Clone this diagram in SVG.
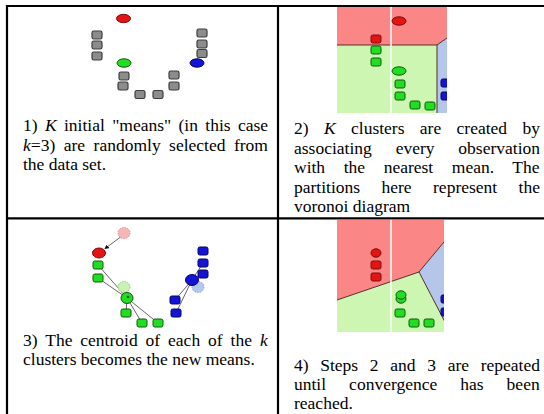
<svg xmlns="http://www.w3.org/2000/svg" width="544" height="414" viewBox="0 0 544 414">
<style>
  .rule{stroke:#000;stroke-width:2.2;fill:none}
  .txt{font-family:"Liberation Serif","Times New Roman",serif;font-size:17.5px;fill:#000}
  .it{font-style:italic}
  .gray{fill:#8c8c8c;stroke:#3c3c3c;stroke-width:1.2}
  .red{fill:#e41414;stroke:#7a0c0c;stroke-width:1}
  .grn{fill:#22dd22;stroke:#0d5a0d;stroke-width:1}
  .blu{fill:#1414d8;stroke:#06065a;stroke-width:1}
  .link{stroke:#555;stroke-width:0.9;fill:none}
  .ghost{stroke-dasharray:1.5 1.2;stroke-width:1}
  .edge{stroke:#5a2a2a;stroke-width:1;fill:none}
  .split{stroke:#fff;stroke-width:1.5}
</style>
<defs>
  <rect id="sq" x="-5" y="-4" width="10" height="8" rx="1.8"/>
  <ellipse id="mean" rx="7" ry="4.2"/>
  <clipPath id="clip2"><rect x="337" y="7" width="110" height="106"/></clipPath>
  <clipPath id="clip4"><rect x="337" y="220" width="107" height="112"/></clipPath>
  <marker id="head" viewBox="0 0 6 6" refX="5" refY="3" markerWidth="5" markerHeight="5" orient="auto">
    <path d="M0,0 L6,3 L0,6 z" fill="#111"/>
  </marker>
</defs>

<!-- table rules -->
<g id="table">
  <line class="rule" x1="6" y1="6" x2="544" y2="6"/>
  <line class="rule" x1="7" y1="5" x2="7" y2="414"/>
  <line class="rule" x1="278" y1="5" x2="278" y2="414"/>
  <line class="rule" x1="6" y1="218.3" x2="544" y2="218.3"/>
</g>

<!-- step 1: initial means among the data points -->
<g id="step1">
  <use href="#mean" class="red" x="123.5" y="18.5"/>
  <use href="#sq" class="gray" x="97" y="35"/>
  <use href="#sq" class="gray" x="97" y="45"/>
  <use href="#sq" class="gray" x="97" y="56"/>
  <use href="#sq" class="gray" x="202" y="33"/>
  <use href="#sq" class="gray" x="202" y="44"/>
  <use href="#sq" class="gray" x="202" y="53.5"/>
  <use href="#mean" class="grn" x="124" y="63"/>
  <use href="#mean" class="blu" x="197" y="63"/>
  <use href="#sq" class="gray" x="124" y="76"/>
  <use href="#sq" class="gray" x="123" y="86"/>
  <use href="#sq" class="gray" x="140" y="94.5"/>
  <use href="#sq" class="gray" x="158" y="94.5"/>
  <use href="#sq" class="gray" x="174" y="75"/>
  <use href="#sq" class="gray" x="174" y="86"/>
  <text class="txt" x="23" y="131" word-spacing="2.98">1) <tspan class="it">K</tspan> initial "means" (in this case</text>
  <text class="txt" x="23" y="150.5" word-spacing="4.11"><tspan class="it">k</tspan>=3) are randomly selected from</text>
  <text class="txt" x="23" y="170">the data set.</text>
</g>

<!-- step 2: voronoi partitions -->
<g id="step2">
  <g clip-path="url(#clip2)">
    <polygon points="337,7 447,7 447,38 437,45 337,45" fill="#fa8686"/>
    <polygon points="337,45 437,45 437,113 337,113" fill="#ccf6b2"/>
    <polygon points="437,45 447,38 447,113 437,113" fill="#b4c6ea"/>
    <polyline class="edge" points="337,45 437,45 447,38"/>
    <line class="edge" x1="437" y1="45" x2="437" y2="113" stroke="#3a3a4a"/>
    <line class="split" x1="391" y1="7" x2="391" y2="113"/>
    <use href="#mean" class="red" x="399" y="21"/>
    <use href="#sq" class="red" x="376" y="39"/>
    <use href="#sq" class="grn" x="376" y="50"/>
    <use href="#sq" class="grn" x="376" y="62"/>
    <use href="#mean" class="grn" x="399" y="71"/>
    <use href="#sq" class="grn" x="400" y="84"/>
    <use href="#sq" class="grn" x="400" y="96"/>
    <use href="#sq" class="grn" x="415" y="105"/>
    <use href="#sq" class="grn" x="430" y="106"/>
    <use href="#sq" class="blu" x="446" y="83"/>
    <use href="#sq" class="blu" x="446" y="96"/>
  </g>
  <text class="txt" x="294" y="134" word-spacing="11">2) <tspan class="it">K</tspan> clusters are created by</text>
  <text class="txt" x="294" y="153.5" word-spacing="19.5">associating every observation</text>
  <text class="txt" x="294" y="173" word-spacing="14.2">with the nearest mean. The</text>
  <text class="txt" x="294" y="192.5" word-spacing="17.04">partitions here represent the</text>
  <text class="txt" x="294" y="212">voronoi diagram</text>
</g>

<!-- step 3: centroids move -->
<g id="step3">
  <line class="link" x1="98" y1="265" x2="127" y2="298"/>
  <line class="link" x1="98" y1="278" x2="127" y2="298"/>
  <line class="link" x1="127" y1="298" x2="126" y2="313"/>
  <line class="link" x1="127" y1="298" x2="142" y2="323"/>
  <line class="link" x1="127" y1="298" x2="158" y2="323"/>
  <line class="link" x1="192" y1="280" x2="203" y2="263"/>
  <line class="link" x1="192" y1="280" x2="203" y2="274"/>
  <line class="link" x1="192" y1="280" x2="175" y2="300"/>
  <line class="link" x1="192" y1="280" x2="176" y2="313"/>
  <line class="link" x1="122" y1="236" x2="105" y2="248.5" stroke-width="0.7" marker-end="url(#head)"/>
  <ellipse cx="124" cy="233" rx="6" ry="5.5" fill="#f5b6b6" stroke="#e08a8a" class="ghost"/>
  <ellipse cx="99" cy="253" rx="6.5" ry="5" class="red"/>
  <use href="#sq" class="grn" x="98" y="265"/>
  <use href="#sq" class="grn" x="98" y="278"/>
  <ellipse cx="124" cy="287" rx="6" ry="5.5" fill="#c8f2b0" stroke="#8cc87a" class="ghost"/>
  <ellipse cx="127" cy="298" rx="6" ry="5.5" class="grn"/>
  <circle cx="128" cy="297" r="1.3" fill="#0d5a0d"/>
  <use href="#sq" class="grn" x="126" y="313"/>
  <use href="#sq" class="grn" x="142" y="323"/>
  <use href="#sq" class="grn" x="158" y="323"/>
  <use href="#sq" class="blu" x="203" y="251"/>
  <use href="#sq" class="blu" x="203" y="263"/>
  <use href="#sq" class="blu" x="203" y="274"/>
  <use href="#sq" class="blu" x="175" y="300"/>
  <use href="#sq" class="blu" x="176" y="313"/>
  <ellipse cx="198" cy="287" rx="6" ry="5.5" fill="#b4c8f0" stroke="#8aa2d8" class="ghost"/>
  <ellipse cx="192" cy="280" rx="6.5" ry="5.5" class="blu"/>
  <text class="txt" x="23" y="345.5" word-spacing="3.55">3) The centroid of each of the <tspan class="it">k</tspan></text>
  <text class="txt" x="23" y="365">clusters becomes the new means.</text>
</g>

<!-- step 4: repeat until convergence -->
<g id="step4">
  <g clip-path="url(#clip4)">
    <polygon points="337,220 444,220 444,242 419,272 337,300" fill="#fa8686"/>
    <polygon points="444,242 419,272 446,324" fill="#b4c6ea"/>
    <polygon points="337,300 419,272 446,324 444,332 337,332" fill="#ccf6b2"/>
    <polyline class="edge" points="337,300 419,272 444,242"/>
    <line class="edge" x1="419" y1="272" x2="446" y2="324" stroke="#3a3a4a"/>
    <line class="split" x1="391" y1="220" x2="391" y2="332"/>
    <ellipse cx="376" cy="253" rx="5" ry="4.2" class="red"/>
    <use href="#sq" class="red" x="376" y="265"/>
    <use href="#sq" class="red" x="376" y="277"/>
    <ellipse cx="401" cy="299" rx="5" ry="4.2" class="grn"/>
    <ellipse cx="401" cy="295" rx="5" ry="4.2" class="grn"/>
    <use href="#sq" class="grn" x="400" y="313"/>
    <use href="#sq" class="grn" x="414" y="323"/>
    <use href="#sq" class="grn" x="429" y="323"/>
    <use href="#sq" class="blu" x="446" y="299"/>
    <use href="#sq" class="blu" x="446" y="312"/>
  </g>
  <text class="txt" x="294" y="370.5" word-spacing="7.31">4) Steps 2 and 3 are repeated</text>
  <text class="txt" x="294" y="389.5" word-spacing="18.66">until convergence has been</text>
  <text class="txt" x="294" y="408.5">reached.</text>
</g>
</svg>
